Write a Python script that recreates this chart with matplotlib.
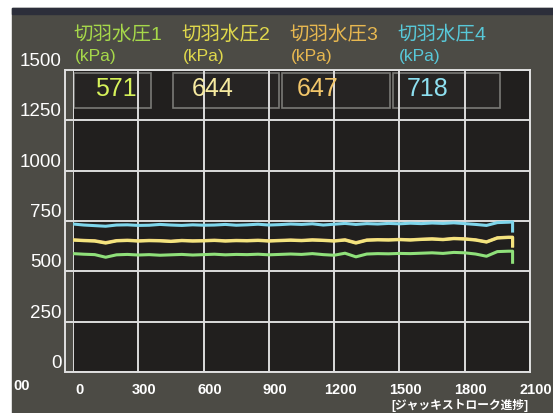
import numpy as np
import matplotlib.pyplot as plt
from matplotlib.patches import Rectangle
from matplotlib.transforms import ScaledTranslation

plt.rcParams['font.family'] = ['Liberation Sans', 'Noto Sans CJK JP', 'DejaVu Sans']

# readings (kPa vs jack stroke progress)
stroke = [0, 50, 100, 150, 200, 250, 300, 350, 400, 450, 500, 550, 600, 650, 700,
          750, 800, 850, 900, 950, 1000, 1050, 1100, 1150, 1200, 1250, 1300, 1350,
          1400, 1450, 1500, 1550, 1600, 1650, 1700, 1750, 1800, 1850, 1900, 1950,
          2000, 2020, 2020]
p4 = [735, 730, 727, 724, 730, 731, 728, 729, 733, 730, 728, 731, 729, 730, 733,
      729, 731, 734, 730, 732, 735, 733, 736, 730, 734, 738, 733, 737, 735, 738,
      736, 739, 737, 740, 738, 741, 737, 733, 728, 742, 744, 745, 700]
p3 = [657, 654, 652, 643, 653, 655, 652, 654, 653, 650, 654, 652, 653, 655, 652,
      654, 653, 655, 652, 654, 656, 654, 657, 655, 652, 657, 643, 656, 658, 657,
      659, 657, 660, 662, 659, 664, 662, 657, 647, 667, 670, 670, 628]
p2 = [655, 652, 650, 640, 651, 653, 650, 652, 651, 648, 652, 650, 651, 653, 650,
      652, 651, 653, 650, 652, 654, 652, 655, 653, 650, 655, 640, 654, 656, 655,
      657, 655, 658, 660, 657, 662, 660, 655, 645, 665, 668, 668, 625]
p1 = [588, 585, 583, 570, 582, 584, 581, 583, 580, 582, 584, 581, 583, 585, 582,
      584, 583, 585, 582, 584, 586, 584, 588, 583, 580, 590, 572, 586, 588, 587,
      589, 588, 590, 592, 589, 594, 592, 586, 575, 598, 600, 600, 545]

headers = ['切羽水圧1', '切羽水圧2', '切羽水圧3', '切羽水圧4']
current = ['571', '644', '647', '718']
xticks = [0, 300, 600, 900, 1200, 1500, 1800, 2100]
yticks = [0, 250, 500, 750, 1000, 1250, 1500]

line_cols = ['#8fe07a', '#f4e47e', '#f0cc7c', '#7fd6ec']
head_cols = ['#a6d84a', '#e0d84c', '#e8b850', '#58c8d8']
val_cols = ['#d6f25a', '#f6eaa0', '#f2c66a', '#8ee0f0']

fig = plt.figure(figsize=(5.53, 4.13), dpi=100, facecolor='white')
# monitor background
fig.patches.append(Rectangle((12/553, 0), 1, (413-8)/413, transform=fig.transFigure,
                             color='#4c4b45', zorder=-10))
fig.patches.append(Rectangle((12/553, (413-14)/413), 1, 6/413, transform=fig.transFigure,
                             color='#2c2e3a', zorder=-9))

ax = fig.add_axes([73/553, 41/413, 457/553, 302/413])
ax.set_facecolor('#211f1e')
ax.set_xlim(0, 2100)
ax.set_ylim(0, 1500)
ax.set_xticks(xticks)
ax.set_yticks(yticks)
ax.grid(True, color='#dcdcdc', lw=1.4)
ax.set_axisbelow(True)
for s in ax.spines.values():
    s.set_color('#e0e0e0')
    s.set_linewidth(1.4)
ax.spines['left'].set_position(('outward', 6))

ax.tick_params(axis='y', direction='in', length=6, width=1.4, color='#e0e0e0',
               labelcolor='white', labelsize=13.5, pad=2)
for lab in ax.get_yticklabels():
    lab.set_verticalalignment('bottom')
ax.tick_params(axis='x', length=0, labelcolor='white', labelsize=10.5, pad=8)
for lab in ax.get_xticklabels():
    lab.set_fontweight('bold')
    lab.set_transform(lab.get_transform() + ScaledTranslation(6/100, 0, fig.dpi_scale_trans))

# current value boxes
boxes = [(5, 360), (460, 945), (960, 1455), (1470, 1960)]
val_x = [198, 643, 1126, 1631]
for (x0, x1), v, vx, c in zip(boxes, current, val_x, val_cols):
    ax.add_patch(Rectangle((x0, 1310), x1 - x0, 175, facecolor='#262423',
                           edgecolor='#7a7a76', lw=1.2, zorder=0.5))
    ax.text(vx, 1405, v, color=c, fontsize=18, ha='center', va='center', zorder=3)

# draw orange under yellow, the two overlap on screen
for y, c in zip([p1, p3, p2, p4], [line_cols[0], line_cols[2], line_cols[1], line_cols[3]]):
    ax.plot(stroke, y, color=c, lw=2.2, zorder=2)

head_x = [73, 181, 289, 397]
for hx, h, c in zip(head_x, headers, head_cols):
    fig.text(hx/553, 1 - 35/413, h, color=c, fontsize=14, ha='left', va='center')
    fig.text((hx + 2)/553, 1 - 56/413, '(kPa)', color=c, fontsize=12.5, ha='left', va='center')

fig.text(13/553, 1 - 386/413, '00', color='white', fontsize=10.5, fontweight='bold',
         ha='left', va='center')
fig.text(460/553, 1 - 405/413, '[ジャッキストローク進捗]', color='white', fontsize=8.5,
         fontweight='bold', ha='center', va='center')

fig.savefig('out.png', dpi=100, facecolor=fig.get_facecolor())
